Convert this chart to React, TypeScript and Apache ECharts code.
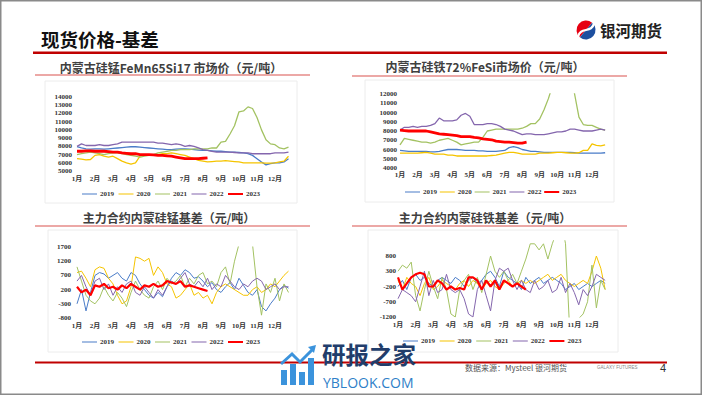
import React, { useEffect, useRef } from 'react';
import * as echarts from 'echarts';

const YEARS = ['2019', '2020', '2021', '2022', '2023'];
const COLORS = ['#4a7cc8', '#f5c400', '#a3c262', '#8466ad', '#ff0000'];
const MONTH_LABELS = ['1月', '2月', '3月', '4月', '5月', '6月', '7月', '8月', '9月', '10月', '11月', '12月'];

const TITLES = [
  '内蒙古硅锰FeMn65Si17 市场价（元/吨）',
  '内蒙古硅铁72%FeSi市场价（元/吨）',
  '主力合约内蒙硅锰基差（元/吨）',
  '主力合约内蒙硅铁基差（元/吨）',
];

// 内蒙古硅锰 FeMn65Si17 市场价 (weekly, 4 points per month)
const femnPrice2019 = [7950, 7800, 7700, 7650, 7700, 7700, 7650, 7700, 7750, 7800, 7850, 7900, 7950, 7950, 7900, 7850, 7800, 7750, 7700, 7650, 7600, 7600, 7650, 7700, 7700, 7650, 7600, 7550, 7500, 7500, 7450, 7400, 7400, 7350, 7300, 7300, 7250, 7200, 7100, 6900, 6500, 6100, 5750, 5900, 6000, 6000, 6100, 6500];
const femnPrice2020 = [6500, 6450, 6350, 6400, 6900, 7000, 6800, 6700, 6800, 6500, 6200, 6000, 5850, 6000, 6800, 7000, 7000, 6950, 7000, 7100, 7100, 7200, 7100, 7000, 6900, 6700, 6500, 6300, 6200, 6100, 6150, 6200, 6200, 6250, 6200, 6150, 6100, 6000, 6000, 6000, 6000, 6000, 5950, 5950, 6000, 6100, 6200, 6800];
const femnPrice2021 = [7000, 7100, 7200, 7300, 7200, 7100, 7000, 7100, 7200, 7200, 7100, 7000, 6900, 6800, 6700, 6800, 6900, 7000, 7200, 7300, 7400, 7500, 7500, 7600, 7600, 7600, 7700, 7700, 7700, 7700, 7800, 7800, 8500, 8600, 9500, 10500, 12200, 12300, 12800, 12600, 11500, 10000, 8800, 8300, 8200, 7800, 7700, 7900];
const femnPrice2022 = [8000, 8300, 8100, 8100, 8100, 8200, 8100, 8100, 8200, 8300, 8500, 8500, 8500, 8500, 8500, 8500, 8500, 8500, 8400, 8400, 8300, 8200, 8300, 8200, 8000, 8100, 8000, 7800, 7600, 7500, 7400, 7300, 7300, 7300, 7300, 7250, 7200, 7200, 7200, 7100, 7100, 7100, 7100, 7100, 7200, 7200, 7200, 7300];
const femnPrice2023 = [7400, 7400, 7450, 7450, 7400, 7400, 7400, 7350, 7300, 7300, 7200, 7150, 7100, 7100, 7000, 7000, 7000, 6950, 6900, 6900, 6850, 6800, 6700, 6600, 6500, 6500, 6500, 6500, 6550, 6600];

// 内蒙古硅铁 72%FeSi 市场价
const fesiPrice2019 = [5900, 5850, 5800, 5800, 5800, 5800, 5800, 5750, 5750, 5800, 5900, 6000, 6000, 6000, 5950, 5900, 5900, 5900, 5850, 5850, 5800, 5800, 5800, 5850, 5900, 6200, 6300, 6200, 6000, 5900, 5800, 5800, 5750, 5700, 5700, 5700, 5700, 5700, 5700, 5700, 5650, 5600, 5600, 5600, 5600, 5600, 5600, 5650];
const fesiPrice2020 = [5600, 5600, 5600, 5600, 5600, 5650, 5700, 5600, 5500, 5500, 5500, 5400, 5400, 5300, 5300, 5300, 5300, 5300, 5300, 5300, 5300, 5350, 5400, 5500, 5600, 5700, 5700, 5600, 5500, 5500, 5500, 5500, 5600, 5600, 5600, 5650, 5700, 5700, 5650, 5600, 5600, 5650, 5900, 5900, 6600, 6450, 6400, 6500];
const fesiPrice2021 = [6500, 7200, 7100, 7000, 6900, 6800, 6800, 6700, 6800, 7000, 7100, 7200, 7000, 6800, 6500, 6600, 6700, 6800, 6800, 7300, 8000, 8100, 8200, 8200, 8200, 8200, 8200, 8200, 8300, 8500, 8800, 8800, 9300, 10300, 11500, 13000, 15000, 16000, 16000, 15000, 12000, 9500, 8700, 8600, 8600, 8400, 8200, 8100];
const fesiPrice2022 = [8100, 8400, 8400, 8500, 8400, 8500, 8500, 8600, 8800, 9400, 9100, 9100, 9100, 9200, 9700, 9900, 9600, 8700, 8700, 8700, 8800, 8800, 8700, 8500, 8200, 8100, 8000, 7800, 7600, 7700, 7700, 7600, 7600, 7600, 7700, 7800, 7900, 7900, 8000, 8200, 8200, 8100, 8000, 8000, 8000, 8100, 8200, 8100];
const fesiPrice2023 = [8100, 8050, 8000, 8000, 8000, 8000, 8000, 7900, 7800, 7700, 7650, 7600, 7550, 7500, 7400, 7400, 7400, 7300, 7250, 7150, 7100, 7050, 6900, 6850, 6800, 6800, 6750, 6700, 6700, 6800];

// 主力合约内蒙硅锰基差
const femnBasis2019 = [-300, 200, -550, 100, 700, 800, 750, 600, 700, 800, 600, 500, 800, 700, 400, 200, 0, -100, 100, -50, 300, 600, 800, 700, 900, 800, 600, 650, 500, 300, 450, 200, 100, 300, 450, 200, 600, 350, 100, 0, 200, -400, -550, -300, -100, 200, 350, 250];
const femnBasis2020 = [800, 850, 600, 300, 900, 1000, 950, 600, 400, 0, -300, -200, 300, 1350, 1300, 1200, 1300, 700, 1000, 800, 400, 300, -100, 0, 200, 400, 0, 100, -100, 0, -300, 100, 300, 400, 300, 200, 100, 0, 0, 200, 300, 100, 200, 400, 300, 500, 700, 850];
const femnBasis2021 = [1000, 500, 0, -200, -300, -100, 300, 0, -200, 100, -100, -400, 100, 500, 200, 0, -100, 300, 500, 200, 600, 400, 500, 700, 300, 600, 400, 700, 800, 400, 500, 300, 800, 1000, 400, 1200, 1800, 2500, 2500, 1800, 300, -700, 400, 100, 600, -200, 400, 100];
const femnBasis2022 = [500, 700, 300, 0, 500, 600, 200, 400, 0, 300, 100, 400, 500, 100, 0, 300, 100, -100, 200, 0, 300, 500, 400, 600, 800, 400, 300, 500, 300, 600, 200, 400, 300, 700, 500, 300, 200, 400, 300, 500, 600, 500, 200, 300, 400, 200, 300, 300];
const femnBasis2023 = [300, 100, 200, 0, 350, 300, 400, 250, 300, 200, 350, 250, 400, 300, 200, 350, 300, 400, 300, 350, 500, 450, 400, 500, 300, 350, 300, 250, 200, 150];

// 主力合约内蒙硅铁基差
const fesiBasis2019 = [-200, 0, -300, 100, 200, 0, 100, -100, -200, 0, 100, 0, -100, 100, 0, -200, 0, 100, -100, 0, 200, 300, 100, -200, 300, 100, 0, -100, -300, 100, -100, 0, 100, -100, 0, 100, 0, -100, -300, -200, -100, -300, -200, -100, -200, -100, 0, -100];
const fesiBasis2020 = [0, -300, 100, -100, -200, -500, -100, 100, -300, -200, 0, -100, -200, -300, -100, 0, -200, 0, -100, -300, -100, 0, -200, -300, -100, 0, -200, -100, 0, -100, 0, -100, 0, 100, 200, 0, 100, 200, 0, -100, -200, -100, 0, -100, 300, 800, 400, -300];
const fesiBasis2021 = [300, 500, 400, 600, -500, -1000, -300, 300, -200, -600, 100, -300, -1100, -1200, -300, 0, 200, -300, 100, -400, 200, 800, 300, 100, 300, 0, 200, -100, 300, 700, 1200, 1200, 1000, 1200, 700, 1200, 1600, 2000, 1200, -1800, -1800, -1250, -1100, -700, 500, -900, 0, -300];
const fesiBasis2022 = [-600, -300, -400, -500, -700, -200, 300, -500, 0, -400, -300, 200, -300, -400, -300, -600, -1100, -1200, -300, 0, -500, -1000, 0, 400, 300, 400, 0, -300, 0, -300, -400, 0, -300, -200, 0, -400, -300, 100, -400, -100, -400, -800, -300, -500, -200, 200, 100, 0];
const fesiBasis2023 = [100, -300, -100, 100, 200, 250, 200, -200, -200, 0, -100, -300, -200, -300, -250, -300, 100, 100, 0, -300, 0, -200, 0, -300, 0, -100, -200, -100, -200, -300];

const PANELS = [
  { data: [femnPrice2019, femnPrice2020, femnPrice2021, femnPrice2022, femnPrice2023], min: 5000, max: 14000, interval: 1000 },
  { data: [fesiPrice2019, fesiPrice2020, fesiPrice2021, fesiPrice2022, fesiPrice2023], min: 4000, max: 12000, interval: 1000 },
  { data: [femnBasis2019, femnBasis2020, femnBasis2021, femnBasis2022, femnBasis2023], min: -800, max: 1700, interval: 500 },
  { data: [fesiBasis2019, fesiBasis2020, fesiBasis2021, fesiBasis2022, fesiBasis2023], min: -1200, max: 1300, interval: 500, hideMax: true },
];

const GRIDS = [
  { left: 77, right: 409, top: 97, height: 74 },
  { left: 400, right: 92.5, top: 94, height: 74 },
  { left: 77, right: 409, top: 247, height: 71 },
  { left: 398, right: 92.4, top: 240.75, height: 76.25 },
];
const YLABEL_MARGIN = [5, 3, 6, 2];
const XLABEL_MARGIN = [4, 3, 4, 4];
const LEGENDS = [
  { left: 82, top: 190, itemGap: 4.5 },
  { left: 405, top: 188, itemGap: 2.8 },
  { left: 82, top: 338, itemGap: 4.5 },
  { left: 403, top: 337, itemGap: 4.6 },
];

const ICON_THIN = 'path://M0,0L0.01,0L0.01,0.01ZM0,3.4L15,3.4L15,4.6L0,4.6ZM15,8L14.99,8L14.99,7.99Z';
const ICON_THICK = 'path://M0,0L0.01,0L0.01,0.01ZM0,2.9L15,2.9L15,5.1L0,5.1ZM15,8L14.99,8L14.99,7.99Z';

const serif = "'Liberation Serif','Noto Sans CJK SC'";
const cjk = "'Noto Sans CJK SC'";

export default function App() {
  const ref = useRef<HTMLDivElement>(null);
  useEffect(() => {
    if (!ref.current) return;
    const chart = echarts.init(ref.current, undefined, { renderer: 'svg' });

    const xAxis = GRIDS.map((_, k) => ({
      type: 'value',
      gridIndex: k,
      min: 0,
      max: 12,
      interval: 1,
      axisLine: { show: false },
      axisTick: { show: false },
      splitLine: { show: false },
      axisLabel: {
        margin: XLABEL_MARGIN[k],
        fontSize: 7,
        fontWeight: 'bold',
        fontFamily: serif,
        color: '#333',
        formatter: (v: number) => (v < 12 ? MONTH_LABELS[v] : ''),
      },
    }));
    const yAxis = PANELS.map((p, k) => ({
      type: 'value',
      gridIndex: k,
      min: p.min,
      max: p.max,
      interval: p.interval,
      axisLine: { show: false },
      axisTick: { show: false },
      splitLine: { show: false },
      axisLabel: {
        margin: YLABEL_MARGIN[k],
        fontSize: 7,
        fontWeight: 'bold',
        fontFamily: serif,
        color: '#333',
        formatter: (v: number) => (p.hideMax && v === p.max ? '' : String(v)),
      },
    }));
    const series: any[] = [];
    PANELS.forEach((p, k) => {
      p.data.forEach((arr, j) => {
        const isRed = j === 4;
        const w = k < 2 ? (isRed ? 2.8 : 1.3) : (isRed ? 2.2 : 1);
        series.push({
          type: 'line',
          name: YEARS[j],
          xAxisIndex: k,
          yAxisIndex: k,
          symbol: 'none',
          showSymbol: false,
          clip: true,
          data: arr.map((v, i) => [i / 4, v]),
          lineStyle: { color: COLORS[j], width: w },
          itemStyle: { color: COLORS[j] },
          z: 2 + j,
        });
      });
    });
    const legend = LEGENDS.map((l) => ({
      left: l.left,
      top: l.top,
      orient: 'horizontal',
      padding: 0,
      itemWidth: 15,
      itemHeight: 8,
      itemGap: l.itemGap,
      selectedMode: false,
      textStyle: { fontSize: 7, fontWeight: 'bold', fontFamily: serif, color: '#333', padding: [0, 0, 0, -2] },
      data: YEARS.map((name, j) => ({
        name,
        icon: j === 4 ? ICON_THICK : ICON_THIN,
        itemStyle: { color: COLORS[j], borderWidth: 0 },
      })),
    }));

    const txt = (x: number, y: number, text: string, size: number, opts: any = {}) => ({
      type: 'text',
      x,
      y,
      z: opts.z ?? 10,
      style: {
        text,
        fontSize: size,
        fontWeight: opts.weight ?? 'normal',
        fontFamily: opts.family ?? cjk,
        fill: opts.fill ?? '#333',
        textAlign: opts.align ?? 'left',
        align: opts.align ?? 'left',
        textVerticalAlign: 'middle',
        verticalAlign: 'middle',
        lineHeight: opts.lineHeight,
      },
    });
    const rect = (x: number, y: number, w: number, h: number, fill: string, z = 1) => ({
      type: 'rect',
      z,
      shape: { x, y, width: w, height: h },
      style: { fill },
    });
    const frame = (x: number, y: number, w: number, h: number) => ({
      type: 'rect',
      z: 0,
      shape: { x, y, width: w, height: h },
      style: { fill: 'none', stroke: '#ececec', lineWidth: 1 },
    });

    const graphic: any[] = [
      { type: 'rect', z: 20, shape: { x: 0.75, y: 0.75, width: 700.5, height: 393.5 }, style: { fill: 'none', stroke: '#8a8a8a', lineWidth: 1.5 } },
      txt(41, 38.5, '现货价格-基差', 18.5, { weight: 'bold', fill: '#111' }),
      rect(33, 51.5, 634, 2.5, '#c00000'),
      // logo
      { type: 'sector', z: 5, shape: { cx: 586, cy: 30, r: 9.5, r0: 0, startAngle: Math.PI * 0.72, endAngle: Math.PI * 1.72, clockwise: true }, style: { fill: '#e60012' } },
      { type: 'sector', z: 5, shape: { cx: 586, cy: 30, r: 9.5, r0: 0, startAngle: Math.PI * 1.72, endAngle: Math.PI * 2.72, clockwise: true }, style: { fill: '#1d4f9f' } },
      { type: 'bezierCurve', z: 6, shape: { x1: 578, y1: 37, x2: 594, y2: 23, cpx1: 580, cpy1: 26, cpx2: 592, cpy2: 34 }, style: { stroke: '#fff', lineWidth: 2.2, fill: 'none' } },
      txt(600, 29.5, '银河期货', 15.5, { weight: 'bold', fill: '#222' }),
      // chart frames
      frame(45, 81, 252, 122),
      frame(365, 80, 249, 122),
      frame(48, 230, 249, 122),
      frame(368, 230, 250, 122),
      // chart titles
      txt(171, 67, TITLES[0], 12, { weight: 'bold', fill: '#404040', align: 'center' }),
      rect(35, 74.5, 275, 1, '#d9534f'),
      txt(485, 66, TITLES[1], 12, { weight: 'bold', fill: '#404040', align: 'center' }),
      rect(352, 75.5, 275, 1, '#d9534f'),
      txt(169, 217.5, TITLES[2], 12, { weight: 'bold', fill: '#404040', align: 'center' }),
      rect(35, 225.5, 275, 1, '#d9534f'),
      txt(485, 217.5, TITLES[3], 12, { weight: 'bold', fill: '#404040', align: 'center' }),
      rect(352, 225.5, 275, 1, '#d9534f'),
      // footer
      rect(35, 361.5, 632, 2, '#c00000', 3),
      txt(465, 367.5, '数据来源：Mysteel 银河期货', 8, { fill: '#555', family: "'Noto Sans CJK SC'" }),
      txt(597, 367.5, 'GALAXY FUTURES', 4.5, { fill: '#888', family: "'Liberation Sans'" }),
      txt(660, 367.5, '4', 11, { fill: '#333', family: "'Liberation Sans'" }),
      // watermark
      rect(281, 370, 6, 15, '#3b93dc', 30),
      rect(290, 364, 6, 21, '#3b93dc', 30),
      rect(299, 372, 6, 13, '#3b93dc', 30),
      rect(308, 358, 6, 27, '#3b93dc', 30),
      { type: 'polyline', z: 30, shape: { points: [[281, 364], [292, 354], [300, 362], [313, 349]] }, style: { stroke: '#3b93dc', lineWidth: 3, fill: 'none' } },
      { type: 'polygon', z: 30, shape: { points: [[308, 347], [316, 345], [314, 353]] }, style: { fill: '#3b93dc' } },
      txt(322, 354, '研报之家', 23.5, { fill: '#213d6b', weight: 'bold', z: 30, lineHeight: 24 }),
      txt(323, 382, 'YBLOOK.COM', 14, { fill: '#2f7fc8', family: "'Open Sans'", z: 30, lineHeight: 14 }),
    ];

    chart.setOption({
      animation: false,
      backgroundColor: '#fff',
      grid: GRIDS.map((g) => ({ ...g, containLabel: false })),
      xAxis,
      yAxis,
      legend,
      series,
      graphic: { elements: graphic },
    });
    return () => chart.dispose();
  }, []);
  return <div ref={ref} style={{ position: 'absolute', left: 0, top: 0, width: 702, height: 395, background: '#fff' }} />;
}
